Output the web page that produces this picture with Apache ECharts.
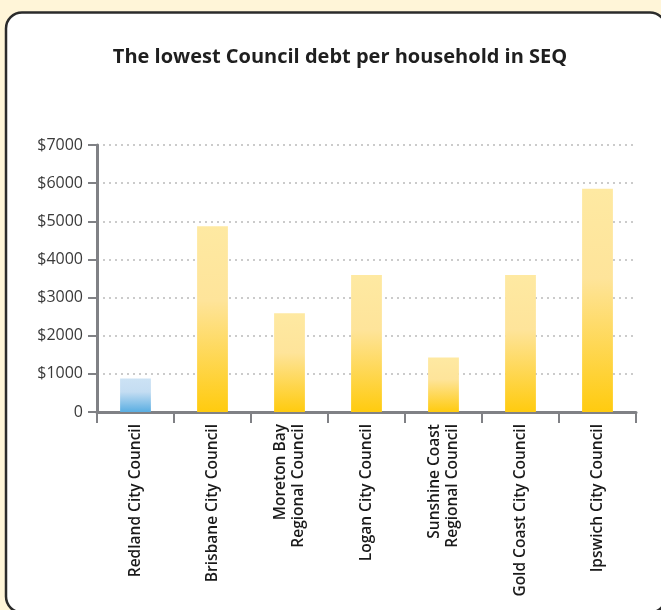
<!DOCTYPE html>
<html>
<head>
<meta charset="utf-8">
<script src="https://cdn.jsdelivr.net/npm/echarts@6/dist/echarts.min.js"></script>
<style>
html,body{margin:0;padding:0;background:#FFF5D8;}
#c{width:661px;height:610px;}
</style>
</head>
<body>
<div id="c"></div>
<script>
var titleText = 'The lowest Council debt per household in SEQ';
var categories = ['Redland City Council','Brisbane City Council','Moreton Bay\nRegional Council','Logan City Council','Sunshine Coast\nRegional Council','Gold Coast City Council','Ipswich City Council'];
var debtValues = [880, 4870, 2590, 3590, 1430, 3590, 5850];
var yTicks = [0, 1000, 2000, 3000, 4000, 5000, 6000, 7000];

var chart = echarts.init(document.getElementById('c'), null, {renderer:'canvas'});
var yellow = new echarts.graphic.LinearGradient(0,0,0,1,[
    {offset:0,color:'#FEE9A2'},{offset:0.4,color:'#FEE49A'},{offset:1,color:'#FFCB0F'}]);
var blue = new echarts.graphic.LinearGradient(0,0,0,1,[
    {offset:0,color:'#CCE2F4'},{offset:0.4,color:'#C4DDF2'},{offset:1,color:'#5AAEE2'}]);

var option = {
  backgroundColor: 'transparent',
  animation: false,
  graphic: [{
    type:'rect', z:-10,
    shape:{x:6, y:12.5, width:660, height:600, r:16},
    style:{fill:'#ffffff', stroke:'#2b2b2b', lineWidth:2.5}
  }],
  title: {
    text: titleText,
    left: 335, top: 42, textAlign:'center',
    textStyle:{fontFamily:'Open Sans', fontWeight:'bold', fontSize:20, color:'#1f1f1f'}
  },
  grid: {left:97, right:25, top:145, bottom:198, containLabel:false, outerBoundsMode:'none'},
  xAxis: {
    type:'category',
    data: categories,
    axisLine:{lineStyle:{color:'#808185', width:3}},
    axisTick:{show:true, length:11, lineStyle:{color:'#808185', width:2}},
    axisLabel:{rotate:90, interval:0, margin:12, fontFamily:'Open Sans', fontWeight:600, fontSize:15.5, color:'#1a1a1a', lineHeight:18}
  },
  yAxis: {
    type:'value', min:0, max:7000, interval:1000,
    axisLine:{show:true, lineStyle:{color:'#808185', width:3}},
    axisTick:{show:true, length:9, lineStyle:{color:'#808185', width:2}},
    axisLabel:{fontFamily:'Open Sans', fontSize:16, color:'#3a3a3a', margin:14,
      formatter:function(v){ return yTicks.indexOf(v) < 0 ? '' : (v===0 ? '0' : '$'+v); }},
    splitLine:{show:true, lineStyle:{color:'#bbbbbb', type:[2,4], width:1.5}}
  },
  series: [{
    type:'bar',
    barWidth:'40%',
    data: debtValues.map(function(v,i){
      return {value:v, itemStyle:{color: i===0 ? blue : yellow}};
    })
  }]
};
chart.setOption(option);
</script>
</body>
</html>
